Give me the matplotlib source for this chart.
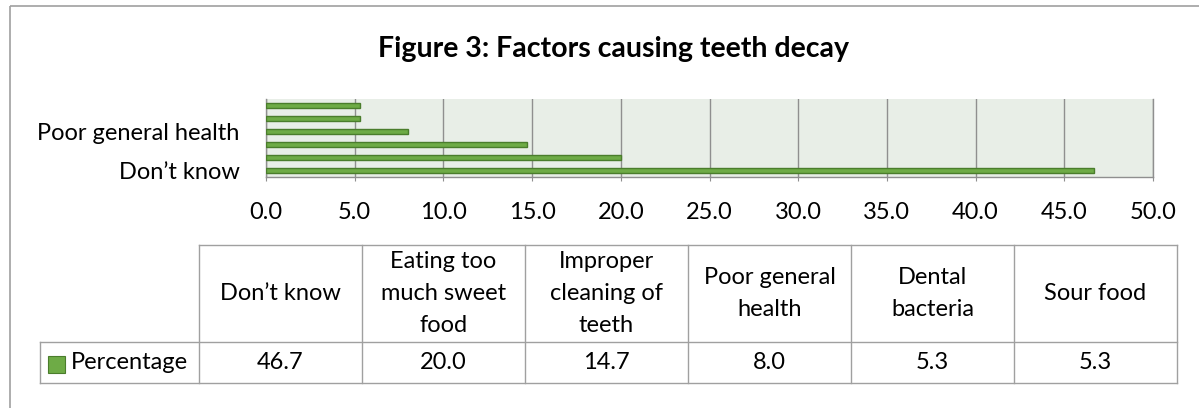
import matplotlib
matplotlib.use("Agg")
import matplotlib.pyplot as plt
from matplotlib.patches import Rectangle

# ---- data ----
categories = ["Don’t know", "Eating too much sweet food", "Improper cleaning of teeth",
              "Poor general health", "Dental bacteria", "Sour food"]
header_labels = ["Don’t know", "Eating too\nmuch sweet\nfood", "Improper\ncleaning of\nteeth",
                 "Poor general\nhealth", "Dental\nbacteria", "Sour food"]
percentages = [46.7, 20.0, 14.7, 8.0, 5.3, 5.3]
series_name = "Percentage"
title = "Figure 3: Factors causing teeth decay"
x_ticks = [0, 5, 10, 15, 20, 25, 30, 35, 40, 45, 50]

# ---- style ----
W, H = 1199, 408
FONT = "Lato"
BAR_FACE = "#6EAB46"
BAR_EDGE = "#4A7D2C"
PLOT_BG = "#E8EEE7"
GRID = "#8F8F8F"
LINE = "#A0A0A0"
TXT = 17

plt.rcParams["font.family"] = [FONT, "DejaVu Sans"]

fig = plt.figure(figsize=(W / 100, H / 100), dpi=100)
fig.patch.set_facecolor("white")


def frac_box(x0, y0, x1, y1):
    return [x0 / W, 1 - y1 / H, (x1 - x0) / W, (y1 - y0) / H]


# ---- bar chart ----
ax = fig.add_axes(frac_box(266, 99, 1153, 177))
ax.set_facecolor(PLOT_BG)
ypos = list(range(len(categories)))
ax.barh(ypos, percentages, height=0.4, color=BAR_FACE, edgecolor=BAR_EDGE,
        linewidth=1.0, zorder=3)
ax.set_xlim(0, 50)
ax.set_ylim(-0.5, len(categories) - 0.5)
ax.set_xticks(x_ticks)
ax.set_xticklabels([f"{v:.1f}" for v in x_ticks], fontsize=TXT)
ax.set_yticks(ypos[::3])
ax.set_yticklabels(categories[::3], fontsize=TXT)
ax.xaxis.grid(True, color=GRID, linewidth=1.0, zorder=1)
ax.tick_params(axis="x", length=3, color=GRID, pad=15)
ax.tick_params(axis="y", length=0, pad=19)
ax.spines["top"].set_visible(False)
for side in ("left", "bottom", "right"):
    ax.spines[side].set_color(GRID)
    ax.spines[side].set_linewidth(1.0)

# ---- overlay canvas for title, frame and data table ----
cv = fig.add_axes([0, 0, 1, 1], zorder=5)
cv.set_xlim(0, W)
cv.set_ylim(H, 0)
cv.axis("off")
cv.patch.set_alpha(0)

# chart frame (left and top edges visible)
cv.plot([10, 10], [6, H + 5], color=LINE, lw=1.2, solid_capstyle="butt")
cv.plot([10, W + 5], [6, 6], color=LINE, lw=1.2, solid_capstyle="butt")

cv.text(614, 49, title, ha="center", va="center", fontsize=20.5,
        fontweight="bold", color="black")

# data table
tab_left, col0, col_w = 40, 199, 163
n = len(categories)
tab_right = col0 + n * col_w
top, mid, bot = 245, 342, 383
lw = 1.0
cv.plot([col0, tab_right], [top, top], color=LINE, lw=lw)
cv.plot([tab_left, tab_right], [mid, mid], color=LINE, lw=lw)
cv.plot([tab_left, tab_right], [bot, bot], color=LINE, lw=lw)
cv.plot([tab_left, tab_left], [mid, bot], color=LINE, lw=lw)
for i in range(n + 1):
    x = col0 + i * col_w
    cv.plot([x, x], [top, bot], color=LINE, lw=lw)

for i, (lab, val) in enumerate(zip(header_labels, percentages)):
    cx = col0 + (i + 0.5) * col_w
    cv.text(cx, (top + mid) / 2, lab, ha="center", va="center", fontsize=TXT,
            linespacing=1.62, multialignment="center")
    cv.text(cx, (mid + bot) / 2, f"{val:.1f}", ha="center", va="center", fontsize=TXT)

cv.add_patch(Rectangle((48, 356), 17, 17, facecolor=BAR_FACE, edgecolor=BAR_EDGE, lw=0.8))
cv.text(71, (mid + bot) / 2, series_name, ha="left", va="center", fontsize=TXT)

fig.savefig("out.png", dpi=100)
